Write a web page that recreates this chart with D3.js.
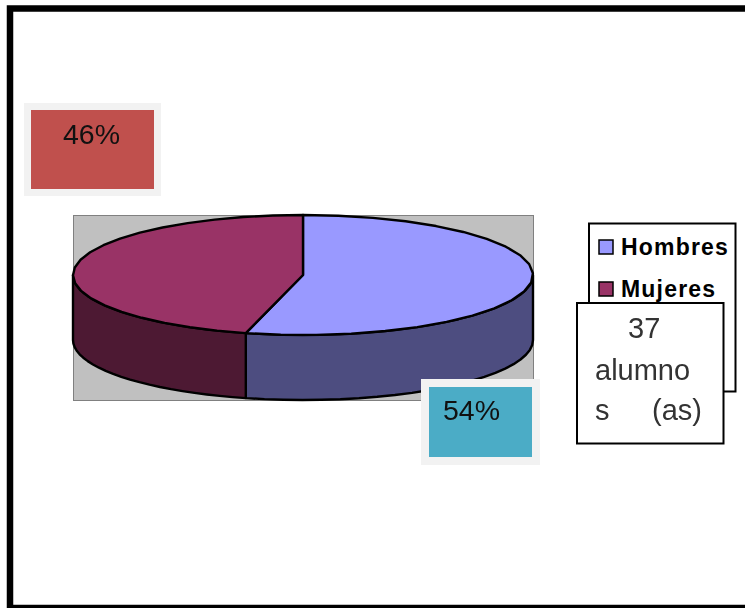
<!DOCTYPE html>
<html>
<head>
<meta charset="utf-8">
<script src="https://cdn.jsdelivr.net/npm/d3@7"></script>
<style>
html, body { margin: 0; padding: 0; background: #fff; }
svg { display: block; }
.soft { filter: blur(0.6px); }
</style>
</head>
<body>
<svg width="745" height="608"></svg>
<script>
var categories = ["Hombres", "Mujeres"];
var values = [54, 46];
var valueLabels = ["54%", "46%"];
var noteLines = ["37", "alumno", "s", "(as)"];

var topColors = ["#9999ff", "#993366"];
var sideColors = ["#4d4d80", "#4d1933"];
var svg = d3.select("svg");

// pie is an ellipse, so angles go through two scales instead of d3.arc
var sx = d3.scaleLinear().domain([-1, 1]).range([73, 533]);
var sy = d3.scaleLinear().domain([-1, 1]).range([215, 335]);
var depth = 65;
var steps = 22;

var slices = d3.pie().sort(null)(values);

function samples(a0, a1){
  return d3.range(0, steps + 1).map(function(i){
    return a0 + (a1 - a0) * i / steps;
  });
}
function rim(dy){
  return d3.line().x(function(a){
    return sx(Math.sin(a));
  }).y(function(a){
    return sy(-Math.cos(a)) + dy;
  });
}

svg.append("rect").attr("x", 73.5).attr("y", 215.5).attr("width", 460).attr("height", 185)
  .attr("fill", "#c0c0c0").attr("stroke", "#808080").attr("stroke-width", 1);

// sides, only the front half shows
slices.forEach(function(d, i){
  var pts = samples(Math.max(d.startAngle, Math.PI / 2), Math.min(d.endAngle, Math.PI * 1.5));
  var lower = rim(depth)(pts.slice().reverse()).replace("M", "L");
  svg.append("path")
    .attr("d", rim(0)(pts) + lower + "Z")
    .attr("fill", sideColors[i]).attr("stroke", "#000").attr("stroke-width", 2.4).attr("stroke-linejoin", "round");
});

// top faces
slices.forEach(function(d, i){
  svg.append("path")
    .attr("d", rim(0)(samples(d.startAngle, d.endAngle)) + "L" + sx(0) + "," + sy(0) + "Z")
    .attr("fill", topColors[i]).attr("stroke", "#000").attr("stroke-width", 2.4).attr("stroke-linejoin", "round");
});

// value labels
function valueBox(x, y, w, h, pad, fill, label, tx, ty){
  svg.append("rect").attr("x", x - pad).attr("y", y - pad).attr("width", w + pad * 2).attr("height", h + pad * 2).attr("fill", "#f2f2f2");
  svg.append("rect").attr("class", "soft").attr("x", x).attr("y", y).attr("width", w).attr("height", h).attr("fill", fill);
  svg.append("text").attr("class", "soft").attr("x", tx).attr("y", ty).attr("font-family", "Liberation Sans")
    .attr("font-size", 28.5).attr("fill", "#111").text(label);
}
valueBox(31, 110, 123, 79, 7, "#c0504d", valueLabels[1], 63, 144);
valueBox(429, 387, 103, 70, 8, "#4bacc6", valueLabels[0], 443, 420);

// legend
svg.append("rect").attr("x", 589).attr("y", 223.5).attr("width", 146.5).attr("height", 168)
  .attr("fill", "#fff").attr("stroke", "#000").attr("stroke-width", 2);
var ly = d3.scalePoint().domain(categories).range([247, 289]);
categories.forEach(function(c, i){
  svg.append("rect").attr("x", 599).attr("y", ly(c) - 7).attr("width", 14).attr("height", 14)
    .attr("fill", topColors[i]).attr("stroke", "#000").attr("stroke-width", 1.5);
  svg.append("text").attr("x", 621).attr("y", ly(c) + 8).attr("font-family", "Liberation Sans").attr("font-weight", "bold")
    .attr("font-size", 23).attr("letter-spacing", 1.2).attr("fill", "#000").text(c);
});

// note box
svg.append("rect").attr("x", 577).attr("y", 303).attr("width", 146.5).attr("height", 140.5)
  .attr("fill", "#fff").attr("stroke", "#000").attr("stroke-width", 2);
var noteAttrs = [[628, 338], [595, 380], [595, 420], [652, 420]];
noteLines.forEach(function(t, i){
  svg.append("text").attr("class", "soft").attr("x", noteAttrs[i][0]).attr("y", noteAttrs[i][1]).attr("font-family", "Liberation Sans")
    .attr("font-size", 29).attr("fill", "#333").text(t);
});

// outer frame, right side runs off the page
svg.append("rect").attr("x", 10).attr("y", 8.5).attr("width", 760).attr("height", 599.5)
  .attr("fill", "none").attr("stroke", "#000").attr("stroke-width", 6.5);
</script>
</body>
</html>
